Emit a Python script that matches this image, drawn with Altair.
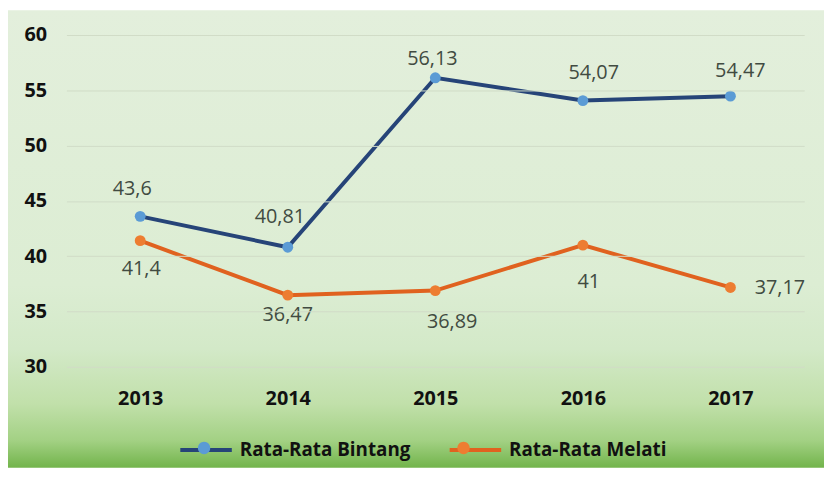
import altair as alt
import pandas as pd

years = ["2013", "2014", "2015", "2016", "2017"]
bintang = [43.6, 40.81, 56.13, 54.07, 54.47]
melati = [41.4, 36.47, 36.89, 41.0, 37.17]
series_names = ["Rata-Rata Bintang", "Rata-Rata Melati"]
y_ticks = [30, 35, 40, 45, 50, 55, 60]

rows = []
for name, vals in zip(series_names, [bintang, melati]):
    for yr, v in zip(years, vals):
        rows.append({"year": yr, "value": v, "series": name, "series_pt": name,
                     "label": f"{v:g}".replace(".", ",")})
df = pd.DataFrame(rows)

W, H = 745, 335
PAD = {"left": 59, "top": 25, "right": 20, "bottom": 102}

line_colors = ["#264478", "#e0621f"]
point_colors = ["#5b9bd5", "#ed7d31"]
label_font = "Open Sans"

gradient = alt.LinearGradient(
    gradient="linear", x1=0, x2=0, y1=0, y2=1,
    stops=[
        alt.GradientStop(color="#e3efdc", offset=0),
        alt.GradientStop(color="#dcedd3", offset=0.6),
        alt.GradientStop(color="#d3e9c8", offset=0.74),
        alt.GradientStop(color="#c1e0aa", offset=0.86),
        alt.GradientStop(color="#a3d184", offset=0.94),
        alt.GradientStop(color="#72b44b", offset=1),
    ],
)

bg = alt.Chart(alt.Data(values=[{}])).mark_rect(color=gradient).encode(
    x=alt.value(-PAD["left"]), x2=alt.value(W + PAD["right"]),
    y=alt.value(-PAD["top"]), y2=alt.value(H + PAD["bottom"]),
)

base = alt.Chart(df)

x_enc = alt.X("year:N", title=None,
              axis=alt.Axis(labelAngle=0, labelFont=label_font, labelFontWeight="bold",
                            labelFontSize=20, labelColor="#111111", labelPadding=22,
                            ticks=False, domain=False, grid=False, zindex=1))
y_enc = alt.Y("value:Q", title=None,
              scale=alt.Scale(domain=[30, 60], nice=False, zero=False),
              axis=alt.Axis(values=y_ticks, labelFont=label_font, labelFontWeight="bold",
                            labelFontSize=20, labelColor="#111111", labelPadding=20,
                            ticks=False, domain=False, grid=True, zindex=1,
                            gridColor="#d0dcc7", gridWidth=1))

legend_common = dict(orient="none", legendX=113, legendY=391, direction="horizontal",
                     symbolSize=2704, labelFont=label_font, labelFontWeight="bold",
                     labelFontSize=19, labelColor="#111111", labelOffset=6,
                     labelLimit=400, columnPadding=31, padding=0)

lines = base.mark_line(strokeWidth=4).encode(
    x=x_enc, y=y_enc,
    stroke=alt.Stroke("series:N", scale=alt.Scale(range=line_colors),
                      legend=alt.Legend(title=None, symbolType="M-1,0H1",
                                        symbolStrokeWidth=4, **legend_common)),
)

points = base.mark_circle(size=120, opacity=1).encode(
    x="year:N", y="value:Q",
    fill=alt.Fill("series_pt:N", scale=alt.Scale(range=point_colors),
                  legend=alt.Legend(title=None,
                                    symbolType="M0.24,0A0.24,0.24,0,1,1,-0.24,0A0.24,0.24,0,1,1,0.24,0Z",
                                    symbolOpacity=1, symbolStrokeWidth=0, labelOpacity=0,
                                    **legend_common)),
)

offsets = {
    ("Rata-Rata Bintang", "2013"): (-8, -28),
    ("Rata-Rata Bintang", "2014"): (-8, -30),
    ("Rata-Rata Bintang", "2015"): (-3, -19),
    ("Rata-Rata Bintang", "2016"): (11, -28),
    ("Rata-Rata Bintang", "2017"): (10, -25),
    ("Rata-Rata Melati", "2013"): (1, 29),
    ("Rata-Rata Melati", "2014"): (0, 20),
    ("Rata-Rata Melati", "2015"): (17, 32),
    ("Rata-Rata Melati", "2016"): (6, 37),
    ("Rata-Rata Melati", "2017"): (50, 1),
}

text_layers = []
for (s, yr), (dx, dy) in offsets.items():
    text_layers.append(
        base.transform_filter(
            (alt.datum.series == s) & (alt.datum.year == yr)
        ).mark_text(font=label_font, fontSize=20, color="#414b41", dx=dx, dy=dy,
                    align="center", baseline="middle").encode(
            x="year:N", y="value:Q", text="label:N")
    )

chart = alt.layer(bg, lines, points, *text_layers).properties(
    width=W, height=H, padding=PAD,
    autosize=alt.AutoSizeParams(type="none"),
).configure_view(stroke="transparent").resolve_scale(fill="independent", stroke="independent")

chart.save("out.html", embed_options={"renderer": "svg", "actions": False})
